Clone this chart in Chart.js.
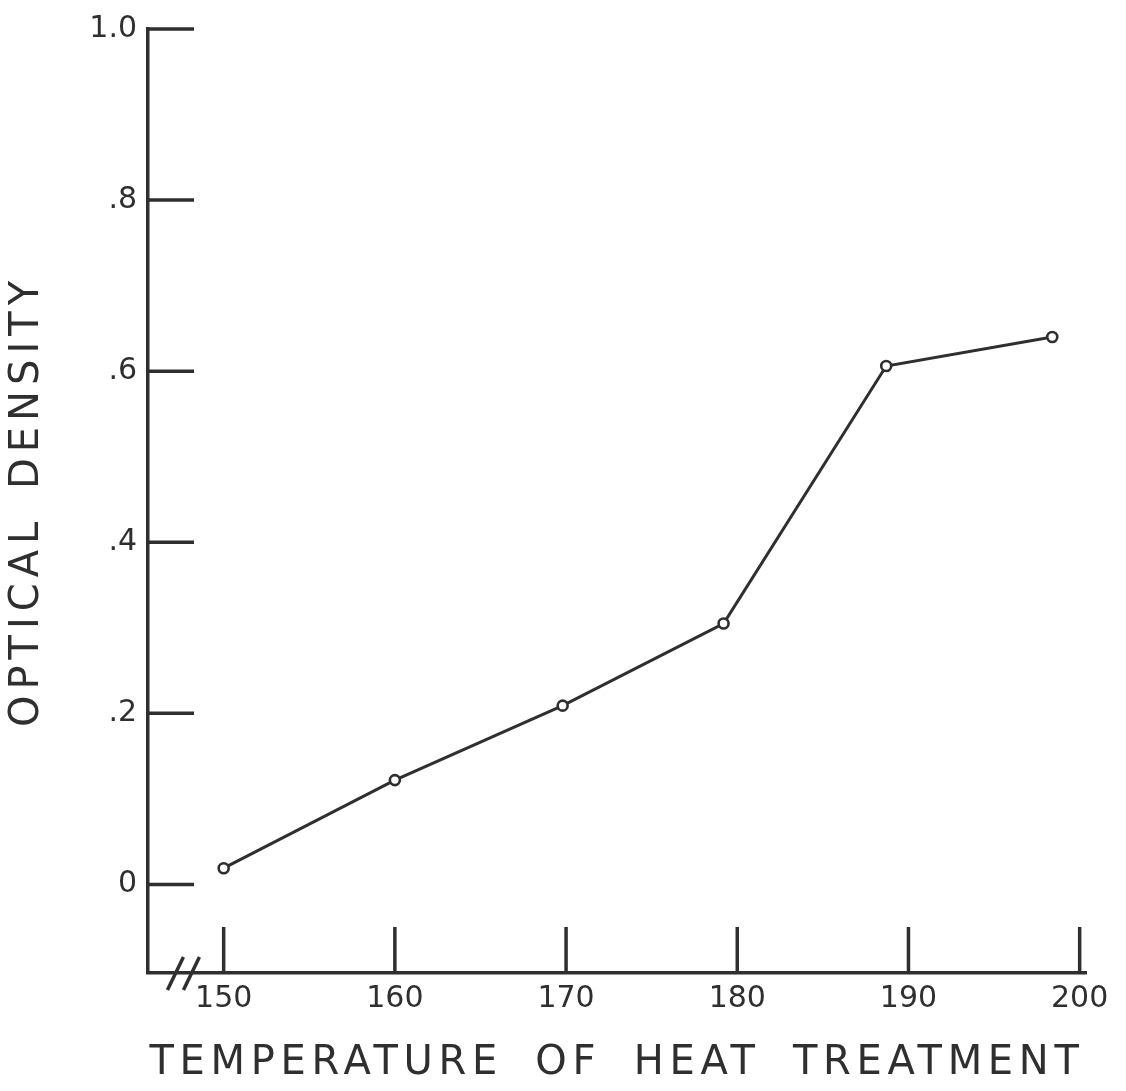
<!DOCTYPE html>
<html>
<head>
<meta charset="utf-8">
<script src="https://cdn.jsdelivr.net/npm/chart.js@4/dist/chart.umd.min.js"></script>
<style>
  html, body { margin: 0; padding: 0; background: #ffffff; }
  #wrap { width: 1126px; height: 1091px; position: relative; }
</style>
</head>
<body>
<div id="wrap"><canvas id="c"></canvas></div>
<script>
// ---- data ----
const temperatures   = [150, 160, 169.8, 179.2, 188.7, 198.4];
const opticalDensity = [0.019, 0.122, 0.209, 0.305, 0.606, 0.640];
const xTickValues = [150, 160, 170, 180, 190, 200];
const xTickLabels = ['150', '160', '170', '180', '190', '200'];
const yTickValues = [0, 0.2, 0.4, 0.6, 0.8, 1.0];
const yTickLabels = ['0', '.2', '.4', '.6', '.8', '1.0'];
const xTitle = 'TEMPERATURE OF HEAT TREATMENT';
const yTitle = 'OPTICAL DENSITY';
const axisBreakAt = 147.65;

const INK = '#2f2f2f';
const FONT = "'DejaVu Sans', 'Liberation Sans', sans-serif";

// inside tick marks + axis break, drawn through the scales
const innerTicks = {
  id: 'innerTicks',
  beforeDatasetsDraw(chart) {
    const {ctx, chartArea: a, scales: {x, y}} = chart;
    ctx.save();
    ctx.strokeStyle = INK;
    ctx.lineWidth = 3.5;
    ctx.lineCap = 'butt';
    const len = 46;
    xTickValues.forEach(v => {
      const px = x.getPixelForValue(v);
      ctx.beginPath(); ctx.moveTo(px, a.bottom); ctx.lineTo(px, a.bottom - len); ctx.stroke();
    });
    yTickValues.forEach(v => {
      const py = y.getPixelForValue(v);
      ctx.beginPath(); ctx.moveTo(a.left, py); ctx.lineTo(a.left + len, py); ctx.stroke();
    });
    // axis break "//"
    const bx = x.getPixelForValue(axisBreakAt);
    [-8, 8].forEach(off => {
      ctx.beginPath();
      ctx.moveTo(bx + off - 8, a.bottom + 17);
      ctx.lineTo(bx + off + 8, a.bottom - 16);
      ctx.stroke();
    });
    ctx.restore();
  }
};

// letter-spaced axis titles (lettering look)
const titleSpacing = {
  id: 'titleSpacing',
  beforeDraw(chart) {
    const sp = {x: ['5.7px', '14px'], y: ['6px', '8px']};
    ['x', 'y'].forEach(id => {
      const s = chart.scales[id];
      if (s && !s.__spaced) {
        const orig = s.drawTitle.bind(s);
        s.drawTitle = function () {
          const c = this.ctx;
          c.save();
          c.letterSpacing = sp[id][0];
          c.wordSpacing = sp[id][1];
          orig();
          c.restore();
        };
        s.__spaced = true;
      }
    });
  }
};

new Chart(document.getElementById('c'), {
  type: 'line',
  data: {
    datasets: [{
      data: temperatures.map((t, i) => ({x: t, y: opticalDensity[i]})),
      borderColor: INK,
      borderWidth: 3,
      pointRadius: 5,
      pointBorderWidth: 2.6,
      pointBackgroundColor: '#ffffff',
      pointBorderColor: INK,
      tension: 0,
      clip: false
    }]
  },
  options: {
    responsive: true,
    maintainAspectRatio: false,
    animation: false,
    layout: { padding: { top: 24, right: 40, bottom: 0, left: 0 } },
    plugins: { legend: { display: false }, tooltip: { enabled: false } },
    scales: {
      x: {
        type: 'linear',
        min: 145.58,
        max: 200.37,
        afterBuildTicks: s => { s.ticks = xTickValues.map(v => ({value: v})); },
        afterFit: s => { s.height = 118; },
        grid: { display: false, drawTicks: false },
        border: { display: true, color: INK, width: 3.5 },
        ticks: {
          padding: 8,
          color: INK,
          font: { family: FONT, size: 30 },
          maxRotation: 0,
          autoSkip: false,
          callback: (v) => xTickLabels[xTickValues.indexOf(v)]
        },
        title: {
          display: true,
          text: xTitle,
          color: INK,
          font: { family: FONT, size: 40 },
          padding: { top: 0, bottom: 3 }
        }
      },
      y: {
        type: 'linear',
        min: -0.1035,
        max: 1.0,
        afterBuildTicks: s => { s.ticks = yTickValues.map(v => ({value: v})); },
        afterFit: s => { s.width = 148; },
        grid: { display: false, drawTicks: false },
        border: { display: true, color: INK, width: 3.5 },
        ticks: {
          padding: 11,
          color: INK,
          font: { family: FONT, size: 30 },
          autoSkip: false,
          callback: (v) => yTickLabels[yTickValues.indexOf(v)]
        },
        title: {
          display: true,
          text: yTitle,
          color: INK,
          font: { family: FONT, size: 40 },
          padding: { top: 4, bottom: 0 }
        }
      }
    }
  },
  plugins: [innerTicks, titleSpacing]
});
</script>
</body>
</html>
